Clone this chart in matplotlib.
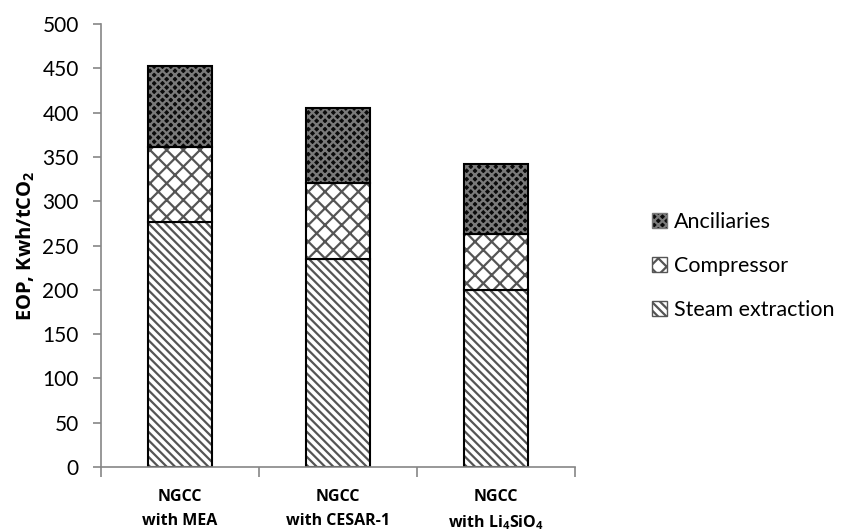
import matplotlib
matplotlib.use("Agg")
import matplotlib.pyplot as plt
from matplotlib.patches import Patch
import numpy as np

plt.rcParams['font.family'] = ['Lato', 'DejaVu Sans']
plt.rcParams['mathtext.fontset'] = 'custom'
plt.rcParams['mathtext.rm'] = 'Open Sans'
plt.rcParams['mathtext.bf'] = 'Open Sans:bold'
plt.rcParams['hatch.linewidth'] = 1.6
BOLD = ['Open Sans', 'DejaVu Sans']

# values (kWh/tCO2)
categories = ["NGCC\nwith MEA", "NGCC\nwith CESAR-1", "NGCC\nwith Li$_\\mathbf{4}$SiO$_\\mathbf{4}$"]
steam_extraction = [276, 235, 200]
compressor = [85, 85, 63]
ancillaries = [92, 85, 79]

series = [
    ("Steam extraction", steam_extraction, "white", "#555555", "\\\\\\\\"),
    ("Compressor", compressor, "white", "#555555", "xx"),
    ("Anciliaries", ancillaries, "#0a0a0a", "#7a7a7a", "xxxx"),
]

fig = plt.figure(figsize=(8.41, 5.32), dpi=100)
ax = fig.add_axes([0.120, 0.122, 0.564, 0.833])

x = np.arange(len(categories))
width = 0.405
bottom = np.zeros(len(categories))
handles = []
for name, vals, face, hcol, hatch in series:
    vals = np.array(vals)
    # hatch drawn with its own colour, outline added on top in black
    ax.bar(x, vals, width, bottom=bottom, color=face, edgecolor=hcol,
           hatch=hatch, linewidth=0)
    ax.bar(x, vals, width, bottom=bottom, fill=False, edgecolor="black",
           linewidth=1.5)
    handles.append(Patch(facecolor=face, edgecolor=hcol, hatch=hatch, label=name))
    bottom += vals

ax.set_xlim(-0.5, len(categories) - 0.5)
ax.set_ylim(0, 500)
ax.set_yticks(range(0, 501, 50))
ax.set_xticks(x)
ax.set_xticklabels(categories, fontweight="bold", fontsize=11.5, linespacing=1.6,
                   family=BOLD)
ax.set_xticks(np.arange(-0.5, len(categories), 1), minor=True)
ax.tick_params(axis="x", which="major", length=0, pad=16)
ax.tick_params(axis="x", which="minor", length=7, color="#868686", width=1.2)
ax.tick_params(axis="y", length=6, color="#868686", width=1.2, labelsize=15, pad=10)

for s in ["top", "right"]:
    ax.spines[s].set_visible(False)
for s in ["left", "bottom"]:
    ax.spines[s].set_color("#868686")
    ax.spines[s].set_linewidth(1.2)

ax.set_ylabel("EOP, Kwh/tCO$_\\mathbf{2}$", fontweight="bold", fontsize=14.5,
              labelpad=4, family=BOLD)

leg = fig.legend(handles=handles[::-1], loc="center left",
                 bbox_to_anchor=(0.765, 0.50), frameon=False, fontsize=15.5,
                 handlelength=0.7, handleheight=0.7, handletextpad=0.3,
                 labelspacing=1.1, borderaxespad=0)

plt.savefig("out.png", dpi=100)
